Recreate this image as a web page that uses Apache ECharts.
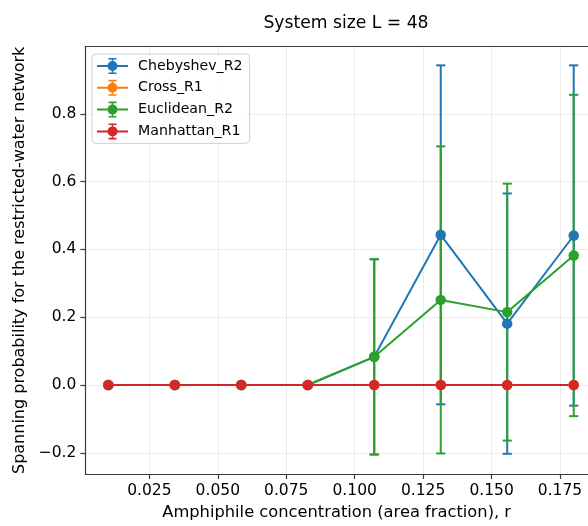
<!DOCTYPE html>
<html>
<head>
<meta charset="utf-8">
<script src="https://cdn.jsdelivr.net/npm/echarts@6/dist/echarts.min.js"></script>
<style>html,body{margin:0;padding:0;background:#fff}#c{width:588px;height:526px}</style>
</head>
<body>
<div id="c"></div>
<script>
// ---- data ----
const r = [0.01, 0.03429, 0.05857, 0.08286, 0.10714, 0.13143, 0.15571, 0.18];
const chebyshev = [0, 0, 0, 0, 0.083, 0.443, 0.181, 0.441];
const chebyshevErr = [0, 0, 0, 0, 0.288, 0.500, 0.384, 0.502];
const cross = [0, 0, 0, 0, 0, 0, 0, 0];
const crossErr = [0, 0, 0, 0, 0, 0, 0, 0];
const euclidean = [0, 0, 0, 0, 0.083, 0.251, 0.215, 0.382];
const euclideanErr = [0, 0, 0, 0, 0.288, 0.453, 0.379, 0.474];
const manhattan = [0, 0, 0, 0, 0, 0, 0, 0];
const manhattanErr = [0, 0, 0, 0, 0, 0, 0, 0];
const xTicks = [0.025, 0.05, 0.075, 0.1, 0.125, 0.15, 0.175];
const yTicks = [-0.2, 0, 0.2, 0.4, 0.6, 0.8];
const seriesNames = ['Chebyshev_R2', 'Cross_R1', 'Euclidean_R2', 'Manhattan_R1'];
const colors = ['#1f77b4', '#ff7f0e', '#2ca02c', '#d62728'];

const values = [chebyshev, cross, euclidean, manhattan];
const errs = [chebyshevErr, crossErr, euclideanErr, manhattanErr];

const FONT = 'DejaVu Sans';
const AX = '#3b3b3b';
const icon = 'path://M0 7H31V9H0Z M14.7 0H16.3V16H14.7Z M11.5 0H19.5V1.6H11.5Z M11.5 14.4H19.5V16H11.5Z M20.5 8A5 5 0 1 1 10.5 8A5 5 0 1 1 20.5 8Z';

function errRender(color) {
  return function (params, api) {
    const x = api.value(0), y = api.value(1), e = api.value(2);
    const top = api.coord([x, y + e]);
    const bot = api.coord([x, y - e]);
    const cw = 4.6;
    const st = { stroke: color, lineWidth: 2 };
    return {
      type: 'group',
      children: [
        { type: 'line', shape: { x1: top[0], y1: top[1], x2: bot[0], y2: bot[1] }, style: st },
        { type: 'line', shape: { x1: top[0] - cw, y1: top[1], x2: top[0] + cw, y2: top[1] }, style: st },
        { type: 'line', shape: { x1: bot[0] - cw, y1: bot[1], x2: bot[0] + cw, y2: bot[1] }, style: st }
      ]
    };
  };
}

const series = [];
seriesNames.forEach((n, i) => {
  series.push({
    name: n + ' err',
    type: 'custom',
    z: 1,
    renderItem: errRender(colors[i]),
    encode: { x: 0, y: 1 },
    data: r.map((x, j) => [x, values[i][j], errs[i][j]]),
    silent: true
  });
});
seriesNames.forEach((n, i) => {
  series.push({
    name: n,
    type: 'line',
    z: 2,
    data: r.map((x, j) => [x, values[i][j]]),
    symbol: 'circle',
    symbolSize: 10.5,
    showSymbol: true,
    color: colors[i],
    lineStyle: { width: 2, color: colors[i] },
    itemStyle: { color: colors[i], borderWidth: 0 },
    emphasis: { disabled: true },
    animation: false
  });
});

const chart = echarts.init(document.getElementById('c'), null, { renderer: 'canvas' });
chart.setOption({
  animation: false,
  backgroundColor: '#fff',
  title: {
    text: 'System size L = 48',
    left: 341, top: 10, textAlign: 'center',
    textStyle: { fontFamily: FONT, fontSize: 17.2, fontWeight: 'normal', color: '#000' }
  },
  grid: {
    left: 85.3, right: 0, top: 46.7, bottom: 49.3,
    show: false, containLabel: false
  },
  legend: {
    data: seriesNames.map(n => ({ name: n, icon: icon })),
    orient: 'vertical',
    left: 92, top: 54,
    itemWidth: 31, itemHeight: 16, itemGap: 5.8,
    padding: [4, 7, 4, 5],
    backgroundColor: 'rgba(255,255,255,0.8)',
    borderColor: '#d0d0d0', borderWidth: 1, borderRadius: 4,
    itemStyle: { borderWidth: 0 },
    textStyle: { fontFamily: FONT, fontSize: 14.2, color: '#000', padding: [0, 0, 0, 5] }
  },
  xAxis: [{
    type: 'value',
    min: 0.0016, max: 0.18522,
    name: 'Amphiphile concentration (area fraction), r',
    nameLocation: 'middle', nameGap: 31,
    nameTextStyle: { fontFamily: FONT, fontSize: 16.3, color: '#000' },
    axisLine: { show: true, onZero: false, lineStyle: { color: AX, width: 1.2 } },
    axisTick: { show: true, inside: false, length: 5, customValues: xTicks, lineStyle: { color: AX, width: 1.2 } },
    axisLabel: { show: true, margin: 9, customValues: xTicks, fontFamily: FONT, fontSize: 15.5, color: '#000',
      formatter: v => v.toFixed(3) },
    splitLine: { show: true, customValues: xTicks, lineStyle: { color: '#ebebeb', width: 1 } }
  }, {
    type: 'value', position: 'top',
    min: 0.0016, max: 0.18522,
    axisLine: { show: true, onZero: false, lineStyle: { color: AX, width: 1.2 } },
    axisTick: { show: false }, axisLabel: { show: false }, splitLine: { show: false }
  }],
  yAxis: {
    type: 'value',
    min: -0.2626, max: 0.998,
    name: 'Spanning probability for the restricted-water network',
    nameLocation: 'middle', nameGap: 48,
    nameTextStyle: { fontFamily: FONT, fontSize: 16, color: '#000' },
    axisLine: { show: true, onZero: false, lineStyle: { color: AX, width: 1.2 } },
    axisTick: { show: true, inside: false, length: 5, customValues: yTicks, lineStyle: { color: AX, width: 1.2 } },
    axisLabel: { show: true, margin: 9, customValues: yTicks, fontFamily: FONT, fontSize: 15.5, color: '#000',
      formatter: v => (v < 0 ? '\u2212' : '') + Math.abs(v).toFixed(1) },
    splitLine: { show: true, customValues: yTicks, lineStyle: { color: '#ebebeb', width: 1 } }
  },
  series: series
});
</script>
</body>
</html>
